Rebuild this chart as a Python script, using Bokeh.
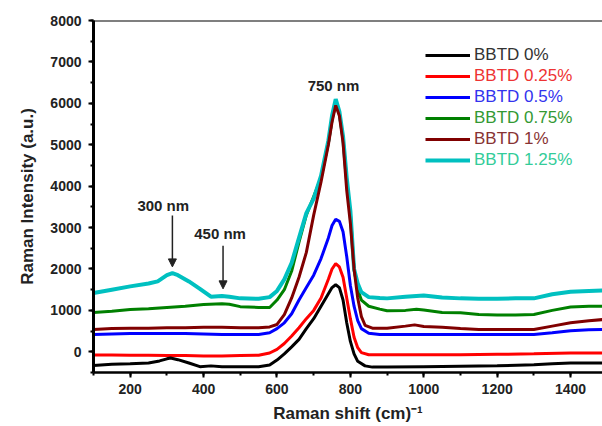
from bokeh.plotting import figure
from bokeh.models import Range1d, Label, Arrow, NormalHead, Span, Legend, LegendItem, SingleIntervalTicker
from bokeh.embed import file_html
from bokeh.resources import INLINE

# ---- data ----
x_0 = [100, 150, 200, 250, 280, 300, 310, 330, 360, 390, 420, 450, 500, 550, 580, 600, 620, 640, 660, 680,
       700, 720, 740, 750, 760, 770, 780, 790, 800, 810, 820, 840, 860, 900, 1000, 1100, 1200, 1300, 1350, 1400, 1490]
y_0 = [-330, -300, -290, -270, -220, -170, -150, -190, -270, -360, -340, -360, -360, -360, -320, -200, -50, 120, 300, 560,
       800, 1100, 1400, 1550, 1620, 1550, 1250, 700, 250, -50, -230, -340, -370, -370, -360, -350, -340, -310, -290, -270, -270]

x_025 = [100, 150, 200, 250, 300, 350, 400, 450, 500, 550, 580, 600, 620, 640, 660, 680, 700, 720, 740, 750,
         760, 770, 780, 790, 800, 810, 820, 830, 850, 900, 1000, 1100, 1200, 1300, 1400, 1490]
y_025 = [-80, -80, -85, -85, -90, -90, -100, -100, -90, -85, -30, 60, 200, 380, 580, 800, 1000, 1300, 1750, 2000,
         2130, 2050, 1800, 1300, 800, 350, 100, -20, -70, -70, -70, -70, -60, -50, -30, -30]

x_05 = [100, 150, 200, 250, 300, 350, 400, 450, 500, 550, 580, 600, 620, 640, 660, 680, 700, 720, 740, 750,
        760, 770, 780, 790, 800, 810, 820, 830, 850, 880, 900, 1000, 1100, 1200, 1300, 1350, 1400, 1450, 1490]
y_05 = [420, 430, 440, 440, 440, 440, 430, 420, 420, 420, 460, 560, 700, 920, 1250, 1550, 1850, 2250, 2750, 3050,
        3200, 3150, 2900, 2300, 1600, 1100, 750, 560, 450, 420, 420, 420, 420, 420, 420, 460, 510, 530, 540]

x_075 = [100, 150, 200, 250, 300, 350, 400, 450, 470, 500, 550, 580, 600, 620, 640, 660, 680, 700, 720, 740, 750,
         760, 770, 780, 790, 800, 810, 820, 830, 850, 880, 900, 950, 980, 1000, 1050, 1100, 1150, 1200, 1250,
         1300, 1350, 1400, 1450, 1490]
y_075 = [950, 980, 1020, 1040, 1070, 1100, 1140, 1160, 1150, 1090, 1070, 1070, 1250, 1500, 1950, 2650, 3300, 3750, 4200, 5050, 5600,
         6000, 5750, 5150, 4150, 3350, 2000, 1500, 1250, 1100, 1030, 990, 1000, 1030, 1010, 950, 940, 900, 890, 890,
         900, 1000, 1080, 1100, 1100]

x_1 = [100, 150, 200, 250, 300, 350, 400, 450, 500, 550, 580, 600, 620, 640, 660, 680, 700, 720, 740, 750,
       760, 770, 780, 790, 800, 810, 820, 830, 840, 860, 900, 950, 975, 1000, 1050, 1100, 1150, 1200, 1250,
       1300, 1350, 1400, 1450, 1490]
y_1 = [540, 560, 570, 570, 580, 580, 590, 590, 580, 580, 600, 660, 900, 1300, 1800, 2400, 3300, 4100, 5000, 5550,
       5950, 5700, 5050, 3900, 3100, 2000, 1300, 850, 640, 570, 570, 620, 650, 610, 590, 560, 540, 540, 540,
       540, 620, 700, 750, 780]

x_125 = [100, 150, 200, 250, 275, 300, 315, 330, 360, 390, 420, 450, 470, 500, 550, 580, 600, 620, 640, 660, 680,
         700, 720, 740, 750, 760, 770, 780, 790, 800, 810, 820, 830, 850, 880, 900, 950, 1000, 1050, 1100, 1150,
         1200, 1250, 1300, 1350, 1400, 1450, 1490]
y_125 = [1420, 1500, 1580, 1650, 1700, 1850, 1900, 1850, 1700, 1520, 1330, 1350, 1330, 1290, 1280, 1320, 1470, 1750, 2150, 2750, 3350,
         3700, 4250, 5100, 5700, 6100, 5800, 5200, 4200, 3400, 2000, 1650, 1440, 1320, 1300, 1290, 1330, 1360, 1310, 1290, 1280,
         1280, 1290, 1290, 1390, 1450, 1470, 1480]

labels = ["BBTD 0%", "BBTD 0.25%", "BBTD 0.5%", "BBTD 0.75%", "BBTD 1%", "BBTD 1.25%"]
xs = [x_0, x_025, x_05, x_075, x_1, x_125]
ys = [y_0, y_025, y_05, y_075, y_1, y_125]
line_colors = ["#000000", "#ff0000", "#0000ff", "#008000", "#800000", "#00c0c0"]
text_colors = ["#333333", "#ee3333", "#3333ee", "#339933", "#883333", "#33cc99"]
widths = [3, 3, 3, 3, 3, 4]

FONT = "Liberation Sans"

p = figure(width=602, height=426, output_backend="svg", toolbar_location=None,
           x_range=Range1d(100, 1487), y_range=Range1d(-500, 8000),
           min_border_left=93, min_border_right=0, min_border_top=20, min_border_bottom=54)
p.grid.visible = False
p.outline_line_color = None
p.background_fill_color = "white"

# draw order: green, cyan, brown, blue, red, black
renderers = {}
for i in [3, 5, 4, 2, 1, 0]:
    renderers[i] = p.line(xs[i], ys[i], line_color=line_colors[i], line_width=widths[i])

# top frame line
p.add_layout(Span(location=8000, dimension="width", line_color="black", line_width=2))

# axes
for ax in (p.xaxis[0], p.yaxis[0]):
    ax.axis_line_color = "black"
    ax.major_tick_line_color = "black"
    ax.minor_tick_line_color = "black"
    ax.major_tick_in = 0
    ax.minor_tick_in = 0
    ax.major_tick_line_width = 2
    ax.minor_tick_line_width = 2
    ax.major_label_text_font = FONT
    ax.major_label_text_font_style = "bold"
    ax.major_label_text_font_size = "14px"
    ax.major_label_text_color = "#222222"
    ax.axis_label_text_font = FONT
    ax.axis_label_text_font_style = "bold"
    ax.axis_label_text_font_size = "17px"
    ax.axis_label_text_color = "#222222"

p.yaxis.axis_line_width = 3
p.xaxis.axis_line_width = 2.5
p.xaxis.ticker = SingleIntervalTicker(interval=200, num_minor_ticks=2)
p.yaxis.ticker = SingleIntervalTicker(interval=1000, num_minor_ticks=2)
p.xaxis.major_tick_out = 5
p.xaxis.minor_tick_out = 3
p.yaxis.major_tick_out = 5
p.yaxis.minor_tick_out = 3
p.yaxis.major_label_standoff = 7
p.xaxis.major_label_standoff = 6
p.xaxis.axis_label = "Raman shift (cm)\u207b\u00b9"
p.yaxis.axis_label = "Raman Intensity (a.u.)"
p.xaxis.axis_label_standoff = 7
p.yaxis.axis_label_standoff = 10

# annotations
for txt, xx, yy in [("750 nm", 754, 6420), ("300 nm", 290, 3530), ("450 nm", 445, 2850)]:
    p.add_layout(Label(x=xx, y=yy, text=txt, text_font=FONT, text_font_style="bold",
                       text_font_size="15px", text_color="#222222",
                       text_align="center", text_baseline="middle"))

for x0, y0, y1 in [(315, 3290, 2050), (453, 2560, 1520)]:
    p.add_layout(Arrow(x_start=x0, y_start=y0, x_end=x0, y_end=y1, line_color="#222222", line_width=1.5,
                       end=NormalHead(size=8, fill_color="#222222", line_color="#222222")))

# legend: one box per entry so each label keeps its own colour
for k in range(6):
    leg = Legend(items=[LegendItem(label=labels[k], renderers=[renderers[k]])],
                 location=(332, 307 - 21 * k), orientation="vertical",
                 glyph_width=45, glyph_height=20, label_height=20, label_standoff=4,
                 padding=0, margin=0, spacing=0, border_line_color=None, background_fill_alpha=0,
                 label_text_font=FONT, label_text_font_size="17px", label_text_color=text_colors[k])
    p.add_layout(leg)

open("out.html", "w").write(file_html(p, INLINE))
